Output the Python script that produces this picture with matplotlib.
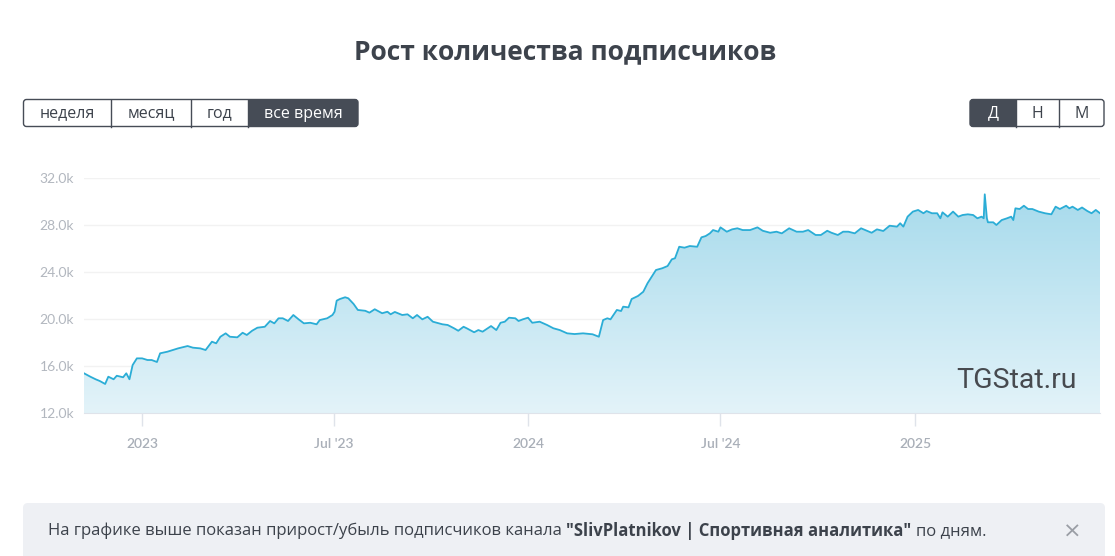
import numpy as np
import matplotlib
matplotlib.use("Agg")
import matplotlib.pyplot as plt
import matplotlib.dates as mdates
from matplotlib.patches import FancyBboxPatch, Rectangle, PathPatch
from matplotlib.path import Path
import datetime as dt

# ---------------- data ----------------
dates = [
    "2022-11-07", "2022-11-13", "2022-11-18", "2022-11-22", "2022-11-27", "2022-11-30",
    "2022-12-05", "2022-12-08", "2022-12-14", "2022-12-17", "2022-12-20", "2022-12-23",
    "2022-12-27", "2023-01-01", "2023-01-06", "2023-01-10", "2023-01-15", "2023-01-18",
    "2023-01-25", "2023-01-30", "2023-02-04", "2023-02-13", "2023-02-18", "2023-02-25",
    "2023-03-02", "2023-03-08", "2023-03-12", "2023-03-16", "2023-03-21", "2023-03-25",
    "2023-04-01", "2023-04-06", "2023-04-10", "2023-04-15", "2023-04-20", "2023-04-27",
    "2023-05-02", "2023-05-06", "2023-05-10", "2023-05-14", "2023-05-19", "2023-05-24",
    "2023-05-29", "2023-06-03", "2023-06-09", "2023-06-15", "2023-06-18", "2023-06-25",
    "2023-06-30", "2023-07-02", "2023-07-04", "2023-07-07", "2023-07-12", "2023-07-15",
    "2023-07-20", "2023-07-24", "2023-07-31", "2023-08-04", "2023-08-09", "2023-08-16",
    "2023-08-21", "2023-08-24", "2023-08-28", "2023-09-04", "2023-09-09", "2023-09-14",
    "2023-09-18", "2023-09-23", "2023-09-28", "2023-10-03", "2023-10-12", "2023-10-17",
    "2023-10-23", "2023-10-27", "2023-11-01", "2023-11-04", "2023-11-11", "2023-11-15",
    "2023-11-19", "2023-11-27", "2023-12-02", "2023-12-06", "2023-12-10", "2023-12-14",
    "2023-12-20", "2023-12-23", "2023-12-27", "2024-01-01", "2024-01-05", "2024-01-12",
    "2024-01-19", "2024-01-25", "2024-01-31", "2024-02-07", "2024-02-14", "2024-02-22",
    "2024-03-02", "2024-03-08", "2024-03-12", "2024-03-16", "2024-03-19", "2024-03-25",
    "2024-03-29", "2024-03-31", "2024-04-05", "2024-04-08", "2024-04-14", "2024-04-19",
    "2024-04-23", "2024-04-27", "2024-05-01", "2024-05-07", "2024-05-12", "2024-05-16",
    "2024-05-19", "2024-05-23", "2024-05-28", "2024-06-02", "2024-06-09", "2024-06-13",
    "2024-06-17", "2024-06-21", "2024-06-24", "2024-06-29", "2024-07-01", "2024-07-07",
    "2024-07-12", "2024-07-17", "2024-07-22", "2024-07-29", "2024-08-05", "2024-08-10",
    "2024-08-17", "2024-08-23", "2024-08-28", "2024-09-04", "2024-09-11", "2024-09-17",
    "2024-09-22", "2024-09-29", "2024-10-04", "2024-10-10", "2024-10-14", "2024-10-20",
    "2024-10-25", "2024-10-30", "2024-11-05", "2024-11-11", "2024-11-17", "2024-11-21",
    "2024-11-26", "2024-12-02", "2024-12-08", "2024-12-15", "2024-12-18", "2024-12-21",
    "2024-12-25", "2024-12-30", "2025-01-04", "2025-01-09", "2025-01-12", "2025-01-17",
    "2025-01-22", "2025-01-25", "2025-01-27", "2025-02-01", "2025-02-06", "2025-02-11",
    "2025-02-15", "2025-02-20", "2025-02-25", "2025-03-01", "2025-03-05", "2025-03-07",
    "2025-03-08", "2025-03-10", "2025-03-11", "2025-03-16", "2025-03-19", "2025-03-24",
    "2025-03-29", "2025-04-02", "2025-04-04", "2025-04-06", "2025-04-10", "2025-04-14",
    "2025-04-18", "2025-04-22", "2025-04-28", "2025-05-04", "2025-05-10", "2025-05-14",
    "2025-05-18", "2025-05-24", "2025-05-27", "2025-05-30", "2025-06-04", "2025-06-08",
    "2025-06-13", "2025-06-17", "2025-06-21", "2025-06-25",
]
subscribers = [
    15380, 15090, 14870, 14720, 14470, 15090,
    14870, 15170, 15040, 15380, 14870, 16080,
    16650, 16650, 16510, 16510, 16340, 17080,
    17220, 17360, 17500, 17700, 17560, 17500,
    17360, 18070, 17930, 18490, 18780, 18490,
    18440, 18830, 18640, 19000, 19260, 19340,
    19830, 19630, 20060, 20060, 19830, 20340,
    19970, 19630, 19680, 19550, 19910, 20060,
    20340, 20620, 21560, 21700, 21850, 21760,
    21280, 20770, 20700, 20540, 20830, 20490,
    20620, 20400, 20600, 20340, 20400, 20060,
    20340, 19970, 20190, 19770, 19550, 19490,
    19210, 19000, 19340, 19210, 18870, 19060,
    18920, 19400, 19060, 19680, 19770, 20110,
    20060, 19830, 19970, 20110, 19680, 19770,
    19490, 19210, 19060, 18780, 18720, 18780,
    18700, 18490, 19910, 20060, 19970, 20770,
    20680, 21050, 20990, 21700, 21960, 22320,
    23040, 23600, 24170, 24320, 24510, 25080,
    25170, 26150, 26070, 26210, 26150, 26950,
    27060, 27290, 27570, 27430, 27800, 27430,
    27630, 27720, 27570, 27570, 27800, 27510,
    27340, 27430, 27290, 27720, 27430, 27430,
    27570, 27150, 27150, 27510, 27340, 27150,
    27430, 27430, 27290, 27720, 27490, 27340,
    27630, 27490, 27940, 27860, 28150, 27860,
    28710, 29140, 29280, 29000, 29190, 29000,
    29000, 28570, 29080, 28710, 29140, 28710,
    28850, 28910, 28850, 28570, 28710, 28570,
    30610, 28570, 28230, 28230, 28000, 28420,
    28570, 28710, 28420, 29420, 29360, 29640,
    29360, 29360, 29140, 29000, 28910, 29560,
    29360, 29640, 29420, 29560, 29280, 29490,
    29190, 29000, 29280, 29000,
]
y_ticks = [12000, 16000, 20000, 24000, 28000, 32000]
y_tick_labels = ["12.0k", "16.0k", "20.0k", "24.0k", "28.0k", "32.0k"]
x_ticks = ["2023-01-01", "2023-07-01", "2024-01-01", "2024-07-01", "2025-01-01"]
x_tick_labels = ["2023", "Jul '23", "2024", "Jul '24", "2025"]

title = "Рост количества подписчиков"
period_buttons = ["неделя", "месяц", "год", "все время"]
scale_buttons = ["Д", "Н", "М"]
info_parts = ["На графике выше показан прирост/убыль подписчиков канала",
              "\"SlivPlatnikov | Спортивная аналитика\"", "по дням."]

# ---------------- figure ----------------
W, H = 1115, 556
fig = plt.figure(figsize=(W / 100, H / 100), dpi=100)
fig.patch.set_facecolor("white")

# overlay axes in pixel coordinates for page furniture
ov = fig.add_axes([0, 0, 1, 1])
ov.set_xlim(0, W)
ov.set_ylim(H, 0)
ov.axis("off")

dark = "#464c56"
txt = "#3c424b"

ov.text(565, 52, title, ha="center", va="center", fontsize=19, fontweight="bold",
        color="#3d434c", family="Open Sans")


def button_group(x0, x1, y0, y1, edges, labels, active):
    outer = FancyBboxPatch((x0, y0), x1 - x0, y1 - y0,
                           boxstyle="round,pad=0,rounding_size=3",
                           facecolor=dark, edgecolor="none", zorder=1)
    ov.add_patch(outer)
    clip = Rectangle((edges[active], y0 - 2), edges[active + 1] - edges[active], y1 - y0 + 4,
                     transform=ov.transData, visible=False)
    ov.add_patch(clip)
    outer.set_clip_path(clip)
    border = FancyBboxPatch((x0, y0), x1 - x0, y1 - y0,
                            boxstyle="round,pad=0,rounding_size=3",
                            facecolor="none", edgecolor=dark, lw=1.0, zorder=3)
    ov.add_patch(border)
    for e in edges[1:-1]:
        ov.plot([e, e], [y0, y1], color=dark, lw=1.0, zorder=3)
    for i, lab in enumerate(labels):
        cx = (edges[i] + edges[i + 1]) / 2
        ov.text(cx, (y0 + y1) / 2 + 0.5, lab, ha="center", va="center", fontsize=11.5,
                color="white" if i == active else txt, family="Open Sans", zorder=4)


button_group(23.5, 358, 99.5, 126.5, [23.5, 111, 191, 248, 358], period_buttons, 3)
button_group(970, 1104, 99.5, 126.5, [970, 1016, 1059, 1104], scale_buttons, 0)

# info box
info = FancyBboxPatch((23, 503), 1082, 80, boxstyle="round,pad=0,rounding_size=5",
                      facecolor="#eef0f4", edgecolor="none", zorder=1)
ov.add_patch(info)
fig.canvas.draw()
renderer = fig.canvas.get_renderer()
xpos = 48
ypos = 531
info_fs = 12
info_font = "Open Sans"
sp = ov.text(0, 0, "a a", fontsize=info_fs, family=info_font)
sp2 = ov.text(0, 0, "aa", fontsize=info_fs, family=info_font)
space_w = sp.get_window_extent(renderer).width - sp2.get_window_extent(renderer).width
sp.remove(); sp2.remove()
for i, part in enumerate(info_parts):
    t = ov.text(xpos, ypos, part, ha="left", va="center", fontsize=info_fs,
                family=info_font, color=txt, fontweight="bold" if i == 1 else "normal",
                zorder=2)
    xpos += t.get_window_extent(renderer).width + space_w
ov.text(1072, 532, "×", ha="center", va="center", fontsize=16, color="#9a9ea5",
        family="DejaVu Sans", zorder=2)

# ---------------- chart ----------------
x = mdates.date2num([dt.date.fromisoformat(d) for d in dates])
y = np.array(subscribers, dtype=float)

left, right = 84 / W, 1100 / W
bottom, top = 1 - 413 / H, 1 - 178 / H
ax = fig.add_axes([left, bottom, right - left, top - bottom])
ax.set_facecolor("none")
ax.set_xlim(x[0], x[-1])
ax.set_ylim(12000, 32000)

# gradient fill under the line
verts = np.vstack([np.column_stack([x, y]), [[x[-1], 12000], [x[0], 12000]]])
poly = PathPatch(Path(verts), facecolor="none", edgecolor="none", transform=ax.transData)
ax.add_patch(poly)
top_c = np.array(matplotlib.colors.to_rgb("#a3d9eb"))
bot_c = np.array(matplotlib.colors.to_rgb("#e3f3f9"))
grad = np.linspace(0, 1, 256)[:, None]
img = top_c[None, None, :] * (1 - grad[..., None]) + bot_c[None, None, :] * grad[..., None]
im = ax.imshow(img, extent=[x[0], x[-1], 12000, 32000], aspect="auto", origin="upper",
               zorder=1)
im.set_clip_path(poly)

ax.plot(x, y, color="#2badd6", lw=1.3, zorder=3, solid_joinstyle="round")

ax.set_yticks(y_ticks)
ax.set_yticklabels(y_tick_labels)
ax.set_xticks(mdates.date2num([dt.date.fromisoformat(d) for d in x_ticks]))
ax.set_xticklabels(x_tick_labels)
ax.grid(axis="y", color="#f2f2f2", lw=1)
ax.set_axisbelow(True)
for s in ["top", "right", "left"]:
    ax.spines[s].set_visible(False)
ax.spines["bottom"].set_color("#dfe3ea")
ax.tick_params(axis="y", length=0, pad=7, labelsize=10, labelcolor="#b2b7bf")
ax.tick_params(axis="x", length=9, width=1, color="#dfe3ea", pad=9, labelsize=10,
               labelcolor="#a9afb8")
for lab in ax.get_xticklabels() + ax.get_yticklabels():
    lab.set_family("Lato")
for lab in ax.get_xticklabels():
    lab.set_fontweight("semibold")

ax.text(1077, 380, "TGStat.ru", transform=ov.transData, ha="right", va="center",
        fontsize=20.5, color="#474a4f", family="Roboto", zorder=5)

fig.savefig("out.png", dpi=100, facecolor="white")
